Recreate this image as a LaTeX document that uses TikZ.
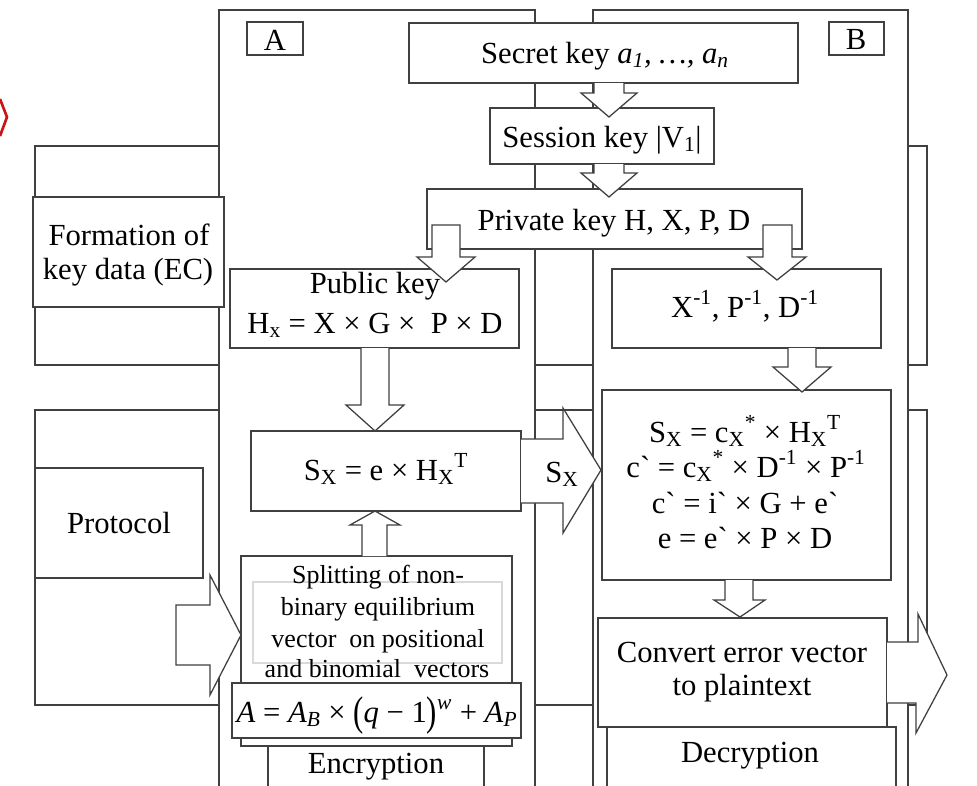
\documentclass[tikz,border=0pt]{standalone}
\usepackage{fontspec}
\setmainfont{Liberation Serif}[Ligatures=TeXOff]
\tikzset{
  ln/.style={draw=black!75, line width=0.95pt},
  boxst/.style={ln, fill=white, rectangle, inner sep=0pt, outer sep=0pt},
  blk/.style={ln, fill=white, line join=miter},
  txt/.style={anchor=base, inner sep=0pt, font=\fontsize{23}{27}\selectfont},
  stxt/.style={anchor=base, inner sep=0pt, font=\fontsize{19.5}{23}\selectfont},
}
\newcommand\mybox[5]{\node[boxst, minimum width={(#4-#2)*0.75pt}, minimum height={(#5-#3)*0.75pt}] (#1) at ({(#2+#4)/2},{(#3+#5)/2}) {};}
\begin{document}
\begin{tikzpicture}[x=0.75pt,y=-0.75pt]
\useasboundingbox (0,0) rectangle (977,785);
\begin{scope}
\clip (0,0) rectangle (977,785);
% red mark
\draw[draw={rgb,255:red,200;green,20;blue,20}, line width=2pt] (0,99) -- (7,117) -- (0,136);
% bands
\mybox{formband}{35}{146}{927}{365}
\mybox{protband}{35}{410}{927}{705}
% frames
\mybox{frameA}{219}{10}{535}{800}
\mybox{frameB}{593}{10}{908}{800}
% side boxes
\mybox{formbox}{33}{197}{224}{307}
\mybox{protbox}{35}{468}{203}{578}
% labels
\mybox{labA}{247}{22}{303}{55}
\mybox{labB}{829}{22}{884}{55}
% key boxes
\mybox{secret}{409}{23}{798}{83}
\mybox{session}{490}{108}{714}{164}
\mybox{private}{427}{189}{802}{249}
\mybox{public}{230}{269}{519}{348}
\mybox{xinv}{612}{269}{881}{348}
% arrows top
\draw[blk] (594,83) -- (594,93) -- (581,93) -- (609,117) -- (637,93) -- (624,93) -- (624,83);
\draw[blk] (594,164) -- (594,173) -- (581,173) -- (609,197) -- (637,173) -- (624,173) -- (624,164);
\draw[blk] (432,225) -- (432,257) -- (417,257) -- (446,282) -- (475,257) -- (460,257) -- (460,225) -- cycle;
\draw[blk] (763,225) -- (763,257) -- (748,257) -- (777,280) -- (806,257) -- (792,257) -- (792,225) -- cycle;
% left column
\mybox{sxbox}{251}{431}{521}{511}
\mybox{encbox}{268}{746}{484}{800}
\mybox{splitbox}{241}{556}{512}{746}
\draw[draw=black!15, line width=0.8pt] (253,582) rectangle (502,663);
\mybox{formulabox}{232}{683}{521}{738}
\draw[blk] (361,348) -- (361,405) -- (346,405) -- (375,431) -- (404,405) -- (389,405) -- (389,348);
\draw[blk] (362,556) -- (362,525) -- (350,525) -- (375,511) -- (400,525) -- (387,525) -- (387,556);
\draw[blk] (176,605) -- (210,605) -- (210,575) -- (241,635) -- (210,695) -- (210,665) -- (176,665) -- cycle;
% right column
\mybox{decform}{602}{390}{891}{580}
\mybox{decbox}{607}{727}{896}{800}
\mybox{convbox}{598}{618}{887}{727}
\draw[blk] (788,348) -- (788,367) -- (773,367) -- (802,392) -- (831,367) -- (816,367) -- (816,348);
\draw[blk] (725,580) -- (725,600) -- (714,600) -- (740,617) -- (765,600) -- (753,600) -- (753,580);
\draw[blk] (521,439) -- (563,439) -- (563,408) -- (601,470) -- (563,533) -- (563,503) -- (521,503);
\draw[blk] (887,642) -- (918,642) -- (918,614) -- (947,675) -- (916,733) -- (916,703) -- (887,703);
% texts
\node[txt] (tA) at (275,50) {A};
\node[txt] (tB) at (856,49) {B};
\node[txt] (tsecret) at (605,63) {Secret key \textit{a\textsubscript{1}, …, a\textsubscript{n}}};
\node[txt] (tsession) at (602,147) {Session key |V\textsubscript{1}|};
\node[txt] (tprivate) at (614,230) {Private key H, X, P, D};
\node[txt] (tpub1) at (375,293) {Public key};
\node[txt] (tpub2) at (375,333) {H\textsubscript{x} = X × G ×\ \ P × D};
\node[txt] (txinv) at (745,317) {X\textsuperscript{-1}, P\textsuperscript{-1}, D\textsuperscript{-1}};
\node[txt] (tsx) at (386,480) {S\textsubscript{X} = e × H\textsubscript{X}\textsuperscript{T}};
\node[txt] (tsxlab) at (562,482) {S\textsubscript{X}};
\node[txt] (td1) at (745,442) {S\textsubscript{X} = c\textsubscript{X}\textsuperscript{*} × H\textsubscript{X}\textsuperscript{T}};
\node[txt] (td2) at (746,477) {c` = c\textsubscript{X}\textsuperscript{*} × D\textsuperscript{-1} × P\textsuperscript{-1}};
\node[txt] (td3) at (745,513) {c` = i` × G + e`};
\node[txt] (td4) at (745,548) {e = e` × P × D};
\node[txt] (tconv1) at (742,662) {Convert error vector};
\node[txt] (tconv2) at (742,695) {to plaintext};
\node[txt] (tdec) at (750,762) {Decryption};
\node[txt] (tenc) at (376,773) {Encryption};
\node[txt] (tform1) at (129,245) {Formation of};
\node[txt] (tform2) at (128,279) {key data (EC)};
\node[txt] (tprot) at (119,533) {Protocol};
\node[stxt] (ts1) at (378,583) {Splitting of non-};
\node[stxt] (ts2) at (378,615) {binary equilibrium};
\node[stxt] (ts3) at (378,647) {vector\ \ on positional};
\node[stxt] (ts4) at (377,677) {and binomial\ \ vectors};
\node[txt] (tformula) at (377,722) {\textit{A} = \textit{A}\textsubscript{\textit{B}} × \raisebox{-0.12em}{\scalebox{1}[1.35]{(}}\textit{q} − 1\raisebox{-0.12em}{\scalebox{1}[1.35]{)}}\textsuperscript{\textit{w}} + \textit{A}\textsubscript{\textit{P}}};
\end{scope}
\end{tikzpicture}
\end{document}
